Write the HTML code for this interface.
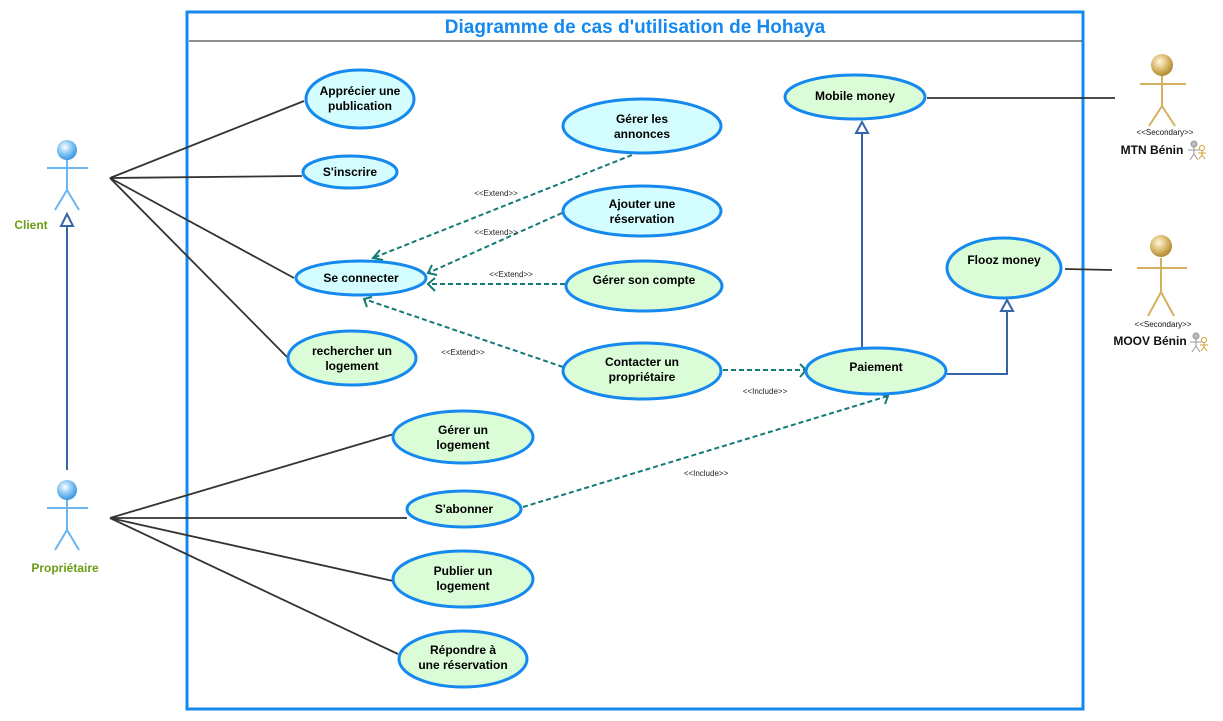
<!DOCTYPE html>
<html><head><meta charset="utf-8"><style>
html,body{margin:0;padding:0;background:#fff;}
svg{display:block;}
text{font-family:"Liberation Sans",sans-serif;}
.uc{stroke:#1589ee;stroke-width:3;}
.c{fill:#d4fdff;}
.g{fill:#dafcd6;}
.t{font-size:12px;font-weight:bold;fill:#000;text-anchor:middle;}
.s{font-size:8px;fill:#222;text-anchor:middle;}
.d{stroke:#147a76;stroke-width:2;stroke-dasharray:5,3;fill:none;}
.ah{stroke:#147a76;stroke-width:2;fill:none;}
.l{stroke:#333;stroke-width:1.8;fill:none;}
</style></head><body>
<svg width="1223" height="721" viewBox="0 0 1223 721" xmlns="http://www.w3.org/2000/svg">
<defs>
<radialGradient id="bh" cx="40%" cy="35%" r="65%"><stop offset="0" stop-color="#fff"/><stop offset="0.5" stop-color="#8ccaf5"/><stop offset="1" stop-color="#3c96e0"/></radialGradient>
<radialGradient id="gh" cx="40%" cy="35%" r="65%"><stop offset="0" stop-color="#fff8e0"/><stop offset="0.5" stop-color="#e0c178"/><stop offset="1" stop-color="#b08930"/></radialGradient>
</defs>
<rect x="187" y="12" width="896" height="697" fill="none" stroke="#1589ee" stroke-width="3"/>
<line x1="189" y1="41" x2="1082" y2="41" stroke="#222" stroke-width="1"/>
<text x="635" y="33" font-size="19" font-weight="bold" fill="#1589ee" text-anchor="middle">Diagramme de cas d'utilisation de Hohaya</text>

<line class="l" x1="110" y1="178" x2="304" y2="101"/>
<line class="l" x1="110" y1="178" x2="302" y2="176"/>
<line class="l" x1="110" y1="178" x2="294" y2="278"/>
<line class="l" x1="110" y1="178" x2="287" y2="357"/>
<line class="l" x1="110" y1="518" x2="394" y2="434"/>
<line class="l" x1="110" y1="518" x2="407" y2="518"/>
<line class="l" x1="110" y1="518" x2="393" y2="581"/>
<line class="l" x1="110" y1="518" x2="398" y2="654"/>
<line x1="67" y1="470" x2="67" y2="226" stroke="#3565a8" stroke-width="2"/>
<polygon points="67,214 61,226 73,226" fill="#fff" stroke="#3565a8" stroke-width="2"/>
<line x1="862" y1="350" x2="862" y2="133" stroke="#3565a8" stroke-width="2"/>
<polygon points="862,122 856,133 868,133" fill="#fff" stroke="#3565a8" stroke-width="2"/>
<polyline points="947,374 1007,374 1007,311" fill="none" stroke="#3565a8" stroke-width="2"/>
<polygon points="1007,300 1001,311 1013,311" fill="#fff" stroke="#3565a8" stroke-width="2"/>
<line class="l" x1="927" y1="98" x2="1115" y2="98"/>
<line class="l" x1="1065" y1="269" x2="1112" y2="270"/>

<line class="d" x1="632" y1="155" x2="373" y2="258"/>
<polyline class="ah" points="380,250 373,258 383,260"/>
<line class="d" x1="562" y1="213" x2="428" y2="273"/>
<polyline class="ah" points="432,265 428,273 437,275"/>
<line class="d" x1="565" y1="284" x2="428" y2="284"/>
<polyline class="ah" points="435,278 428,284 435,291"/>
<line class="d" x1="563" y1="367" x2="364" y2="299"/>
<polyline class="ah" points="367,307 364,299 372,297"/>
<line class="d" x1="723" y1="370" x2="806" y2="370"/>
<polyline class="ah" points="800,364 806,370 800,377"/>
<line class="d" x1="523" y1="507" x2="888" y2="396"/>
<polyline class="ah" points="880,394 888,396 885,404"/>
<text class="s" x="496" y="196">&lt;&lt;Extend&gt;&gt;</text>
<text class="s" x="496" y="235">&lt;&lt;Extend&gt;&gt;</text>
<text class="s" x="511" y="277">&lt;&lt;Extend&gt;&gt;</text>
<text class="s" x="463" y="355">&lt;&lt;Extend&gt;&gt;</text>
<text class="s" x="765" y="394">&lt;&lt;Include&gt;&gt;</text>
<text class="s" x="706" y="476">&lt;&lt;Include&gt;&gt;</text>

<ellipse class="uc c" cx="360" cy="99" rx="54" ry="29"/>
<text class="t" x="360" y="95">Apprécier une</text><text class="t" x="360" y="110">publication</text>
<ellipse class="uc c" cx="350" cy="172" rx="47" ry="16"/>
<text class="t" x="350" y="176">S'inscrire</text>
<ellipse class="uc c" cx="361" cy="278" rx="65" ry="17"/>
<text class="t" x="361" y="282">Se connecter</text>
<ellipse class="uc g" cx="352" cy="358" rx="64" ry="27"/>
<text class="t" x="352" y="355">rechercher un</text><text class="t" x="352" y="370">logement</text>
<ellipse class="uc c" cx="642" cy="126" rx="79" ry="27"/>
<text class="t" x="642" y="123">Gérer les</text><text class="t" x="642" y="138">annonces</text>
<ellipse class="uc c" cx="642" cy="211" rx="79" ry="25"/>
<text class="t" x="642" y="208">Ajouter une</text><text class="t" x="642" y="223">réservation</text>
<ellipse class="uc g" cx="644" cy="286" rx="78" ry="25"/>
<text class="t" x="644" y="284">Gérer son compte</text>
<ellipse class="uc g" cx="642" cy="371" rx="79" ry="28"/>
<text class="t" x="642" y="366">Contacter un</text><text class="t" x="642" y="381">propriétaire</text>
<ellipse class="uc g" cx="855" cy="97" rx="70" ry="22"/>
<text class="t" x="855" y="100">Mobile money</text>
<ellipse class="uc g" cx="1004" cy="268" rx="57" ry="30"/>
<text class="t" x="1004" y="264">Flooz money</text>
<ellipse class="uc g" cx="876" cy="371" rx="70" ry="23"/>
<text class="t" x="876" y="371">Paiement</text>
<ellipse class="uc g" cx="463" cy="437" rx="70" ry="26"/>
<text class="t" x="463" y="434">Gérer un</text><text class="t" x="463" y="449">logement</text>
<ellipse class="uc g" cx="464" cy="509" rx="57" ry="18"/>
<text class="t" x="464" y="513">S'abonner</text>
<ellipse class="uc g" cx="463" cy="579" rx="70" ry="28"/>
<text class="t" x="463" y="575">Publier un</text><text class="t" x="463" y="590">logement</text>
<ellipse class="uc g" cx="463" cy="659" rx="64" ry="28"/>
<text class="t" x="463" y="654">Répondre à</text><text class="t" x="463" y="669">une réservation</text>

<g stroke="#6ab6f2" stroke-width="2" fill="none">
<line x1="67" y1="160" x2="67" y2="190"/><line x1="47" y1="168" x2="88" y2="168"/>
<polyline points="55,210 67,190 79,210"/>
<line x1="67" y1="500" x2="67" y2="530"/><line x1="47" y1="508" x2="88" y2="508"/>
<polyline points="55,550 67,530 79,550"/>
</g>
<circle cx="67" cy="150" r="10" fill="url(#bh)"/>
<circle cx="67" cy="490" r="10" fill="url(#bh)"/>
<text x="31" y="229" font-size="12" font-weight="bold" fill="#6a9c14" text-anchor="middle">Client</text>
<text x="65" y="572" font-size="12" font-weight="bold" fill="#6a9c14" text-anchor="middle">Propriétaire</text>

<g stroke="#d4b060" stroke-width="2" fill="none">
<line x1="1162" y1="74" x2="1162" y2="106"/><line x1="1140" y1="84" x2="1186" y2="84"/>
<polyline points="1149,126 1162,106 1175,126"/>
<line x1="1161" y1="258" x2="1161" y2="292"/><line x1="1137" y1="268" x2="1187" y2="268"/>
<polyline points="1148,316 1161,292 1174,316"/>
</g>
<circle cx="1162" cy="65" r="11" fill="url(#gh)"/>
<circle cx="1161" cy="246" r="11" fill="url(#gh)"/>
<text x="1165" y="135" font-size="8" fill="#111" text-anchor="middle">&lt;&lt;Secondary&gt;&gt;</text>
<text x="1152" y="154" font-size="12" font-weight="bold" fill="#111" text-anchor="middle">MTN Bénin</text>
<text x="1163" y="327" font-size="8" fill="#111" text-anchor="middle">&lt;&lt;Secondary&gt;&gt;</text>
<text x="1150" y="345" font-size="12" font-weight="bold" fill="#111" text-anchor="middle">MOOV Bénin</text>
<g stroke-width="1" fill="none">
<circle cx="1194" cy="144" r="3" fill="#bbb" stroke="#999"/>
<path d="M1194 147v7M1188 150h12M1190 160l4-6 4 6" stroke="#999"/>
<circle cx="1202" cy="148" r="2.5" stroke="#d4a030"/>
<path d="M1202 151v4M1198 153h8M1199 159l3-4 3 4" stroke="#d4a030"/>
<circle cx="1196" cy="336" r="3" fill="#bbb" stroke="#999"/>
<path d="M1196 339v7M1190 342h12M1192 352l4-6 4 6" stroke="#999"/>
<circle cx="1204" cy="340" r="2.5" stroke="#d4a030"/>
<path d="M1204 343v4M1200 345h8M1201 351l3-4 3 4" stroke="#d4a030"/>
</g>
</svg>
</body></html>
